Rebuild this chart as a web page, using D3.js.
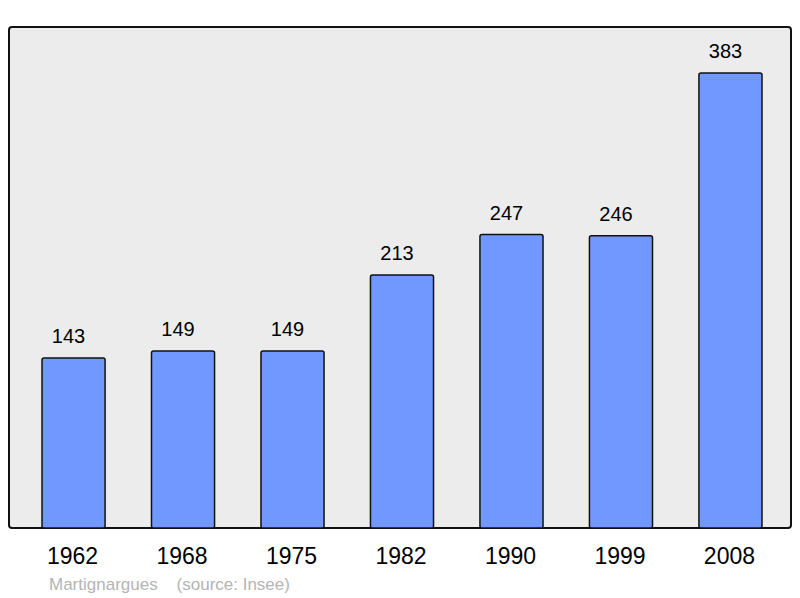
<!DOCTYPE html>
<html>
<head>
<meta charset="utf-8">
<script src="https://cdn.jsdelivr.net/npm/d3@7"></script>
<style>
  body { margin: 0; background: #fff; }
  svg { display: block; font-family: "Liberation Sans", Arial, sans-serif; }
</style>
</head>
<body>
<svg width="800" height="598"></svg>
<script>
// population data
const years = ["1962", "1968", "1975", "1982", "1990", "1999", "2008"];
const population = [143, 149, 149, 213, 247, 246, 383];
const commune = "Martignargues";
const source = "(source: Insee)";

const data = years.map((y, i) => ({ year: y, value: population[i] }));

const svg = d3.select("svg");

const frame = { left: 9, top: 27, right: 791, bottom: 528 };

const xScale = d3
  .scaleBand()
  .domain(years)
  .range([18.8, 785.2])
  .paddingInner(0.424)
  .paddingOuter(0.212);

const yScale = d3
  .scaleLinear()
  .domain([0, 383])
  .range([frame.bottom, 73]);

// background frame
svg.append("rect")
  .attr("x", frame.left)
  .attr("y", frame.top)
  .attr("width", frame.right - frame.left)
  .attr("height", frame.bottom - frame.top)
  .attr("rx", 3)
  .attr("fill", "#ececec")
  .attr("stroke", "#111")
  .attr("stroke-width", 2);

svg.selectAll(".bar")
  .data(data)
  .enter()
  .append("rect")
  .classed("bar", true)
  .attr("x", d => xScale(d.year))
  .attr("y", d => yScale(d.value))
  .attr("width", xScale.bandwidth())
  .attr("height", d => yScale(0) - yScale(d.value))
  .attr("rx", 2)
  .attr("fill", "#7098ff")
  .attr("stroke", "#111")
  .attr("stroke-width", 1.5);

// value labels (sit a bit left of bar centre in the original)
svg.selectAll(".val")
  .data(data)
  .enter()
  .append("text")
  .attr("x", d => xScale(d.year) + xScale.bandwidth() / 2 - 5)
  .attr("y", d => yScale(d.value) - 15)
  .attr("text-anchor", "middle")
  .attr("font-size", 20)
  .attr("fill", "#000")
  .text(d => d.value);

// year labels
svg.selectAll(".year")
  .data(data)
  .enter()
  .append("text")
  .attr("x", d => xScale(d.year) + xScale.bandwidth() / 2 - 1)
  .attr("y", 564)
  .attr("text-anchor", "middle")
  .attr("font-size", 23)
  .attr("fill", "#000")
  .text(d => d.year);

// footer
svg.append("text")
  .attr("x", 49)
  .attr("y", 590)
  .attr("font-size", 17)
  .attr("fill", "#b4b4b4")
  .attr("xml:space", "preserve")
  .text(commune + "    " + source);
</script>
</body>
</html>
